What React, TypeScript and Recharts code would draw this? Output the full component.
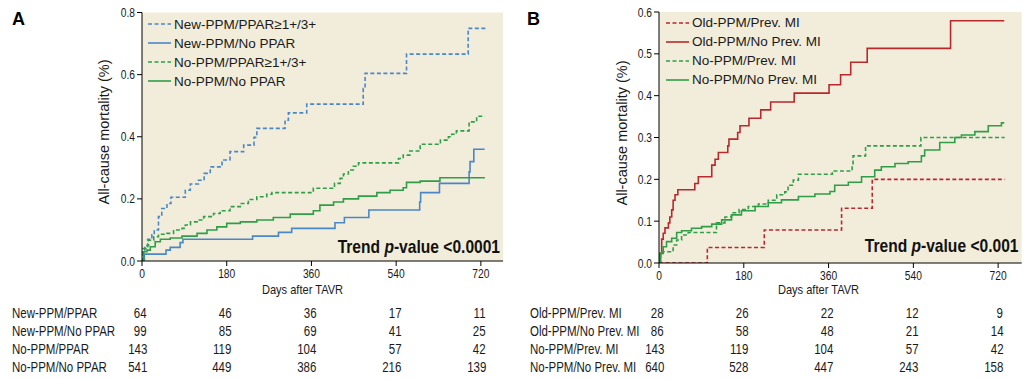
import { LineChart, Line, XAxis, YAxis, CartesianGrid } from "recharts";

type Pt = [number, number];

const dayTicks = [0, 180, 360, 540, 720];
const yTicksA = [0, 0.2, 0.4, 0.6, 0.8];
const yTicksB = [0, 0.1, 0.2, 0.3, 0.4, 0.5, 0.6];

// Panel A curves, [day, cumulative mortality]
const newPpmPpar: Pt[] = [
  [0, 0], [2, 0.03], [6, 0.046], [12, 0.07], [21, 0.084], [26, 0.1], [35, 0.143], [42, 0.169],
  [53, 0.185], [61.5, 0.205], [92, 0.228], [102.6, 0.248], [120, 0.26], [132, 0.282], [145, 0.303],
  [170, 0.325], [187, 0.352], [216, 0.373], [238, 0.398], [244, 0.427], [304, 0.453], [311, 0.477],
  [350, 0.505], [470, 0.555], [474, 0.604], [562, 0.666], [693, 0.749], [730, 0.749],
];
const newPpmNoPpar: Pt[] = [
  [0, 0], [5, 0.022], [51, 0.035], [60, 0.044], [81, 0.059], [87, 0.07], [235, 0.08], [290, 0.092],
  [318, 0.105], [410, 0.123], [430, 0.14], [482, 0.164], [590, 0.19], [592, 0.22], [632, 0.25],
  [695, 0.287], [697, 0.32], [705, 0.36], [728, 0.36],
];
const noPpmPpar: Pt[] = [
  [0, 0], [2, 0.04], [10.6, 0.05], [14, 0.067], [25, 0.078], [35, 0.086], [53, 0.089], [67, 0.1],
  [85, 0.105], [92, 0.116], [103, 0.126], [117, 0.132], [131, 0.143], [152, 0.153], [166, 0.162],
  [187, 0.175], [209, 0.185], [226, 0.198], [244, 0.207], [265, 0.215], [276, 0.22], [364, 0.234],
  [409, 0.25], [421, 0.266], [428, 0.28], [438.5, 0.293], [449, 0.305], [460, 0.316], [545, 0.33],
  [555, 0.341], [569, 0.354], [591, 0.376], [634, 0.389], [651, 0.4], [658, 0.408], [668, 0.419],
  [695, 0.448], [711, 0.466], [728.5, 0.466],
];
const noPpmNoPpar: Pt[] = [
  [0, 0], [3.5, 0.03], [10.6, 0.035], [17.7, 0.046], [28, 0.062], [39, 0.07], [60, 0.074], [85, 0.08],
  [117, 0.089], [138, 0.1], [159, 0.11], [180, 0.121], [209, 0.126], [244, 0.132], [279, 0.14],
  [315, 0.151], [364, 0.162], [378, 0.18], [407, 0.19], [428, 0.2], [460, 0.209], [499, 0.22],
  [527, 0.228], [555, 0.236], [562, 0.253], [591, 0.257], [633, 0.268], [728.5, 0.268],
];

// Panel B curves
const oldPpmPrevMi: Pt[] = [
  [0, 0], [102.6, 0.037], [223.5, 0.079], [387.6, 0.131], [452.7, 0.2], [734, 0.2],
];
const oldPpmNoPrevMi: Pt[] = [
  [0, 0], [2, 0.023], [5.7, 0.057], [9, 0.071], [12.7, 0.084], [20, 0.096], [23, 0.11], [27, 0.127],
  [30, 0.15], [34, 0.163], [40, 0.175], [76, 0.19], [83.5, 0.206], [112, 0.234], [119, 0.248],
  [126, 0.264], [146, 0.28], [148.5, 0.296], [167, 0.312], [172, 0.328], [191, 0.346], [216, 0.366],
  [237, 0.385], [287, 0.406], [361, 0.426], [385.5, 0.45], [407, 0.48], [442, 0.513], [619, 0.579],
  [733, 0.579],
];
const noPpmPrevMi: Pt[] = [
  [0, 0], [3.5, 0.019], [6, 0.027], [30, 0.043], [37.5, 0.055], [48, 0.067], [62, 0.073], [122, 0.096],
  [140, 0.11], [154, 0.12], [170, 0.128], [189.5, 0.135], [211, 0.141], [232, 0.15], [250, 0.163],
  [267, 0.17], [274, 0.186], [285, 0.198], [296, 0.212], [368, 0.22], [410, 0.232], [412, 0.256],
  [438.5, 0.28], [556, 0.3], [734, 0.3],
];
const noPpmNoPrevMi: Pt[] = [
  [0, 0], [3.5, 0.023], [9, 0.039], [16, 0.051], [27, 0.059], [37.5, 0.073], [48, 0.077], [69, 0.083],
  [90.5, 0.087], [112, 0.093], [133, 0.103], [154, 0.115], [175, 0.125], [204, 0.135], [232, 0.144],
  [260, 0.151], [296, 0.159], [331, 0.165], [363, 0.171], [373, 0.186], [402, 0.193], [430, 0.206],
  [458, 0.222], [472, 0.23], [501, 0.238], [529, 0.242], [557, 0.256], [564, 0.27], [596, 0.288],
  [628, 0.3], [642, 0.306], [670.5, 0.314], [699, 0.328], [727, 0.335], [733, 0.335],
];

// numbers at risk
const riskLabelsA = ["New-PPM/PPAR", "New-PPM/No PPAR", "No-PPM/PPAR", "No-PPM/No PPAR"];
const riskA = [
  [64, 46, 36, 17, 11],
  [99, 85, 69, 41, 25],
  [143, 119, 104, 57, 42],
  [541, 449, 386, 216, 139],
];
const riskLabelsB = ["Old-PPM/Prev. MI", "Old-PPM/No Prev. MI", "No-PPM/Prev. MI", "No-PPM/No Prev. MI"];
const riskB = [
  [28, 26, 22, 12, 9],
  [86, 58, 48, 21, 14],
  [143, 119, 104, 57, 42],
  [640, 528, 447, 243, 158],
];

const BLUE = "#4a87c7";
const GREEN = "#2f9e47";
const RED = "#b8292e";
const BG = "#f2eddb";
const SANS = '"Liberation Sans", Arial, sans-serif';
const SQUEEZE = 0.82; // no narrow face installed, so squeeze the sans

type Series = { name: string; color: string; dashed: boolean; pts: Pt[] };

const seriesA: Series[] = [
  { name: "New-PPM/PPAR\u22651+/3+", color: BLUE, dashed: true, pts: newPpmPpar },
  { name: "New-PPM/No PPAR", color: BLUE, dashed: false, pts: newPpmNoPpar },
  { name: "No-PPM/PPAR\u22651+/3+", color: GREEN, dashed: true, pts: noPpmPpar },
  { name: "No-PPM/No PPAR", color: GREEN, dashed: false, pts: noPpmNoPpar },
];
const seriesB: Series[] = [
  { name: "Old-PPM/Prev. MI", color: RED, dashed: true, pts: oldPpmPrevMi },
  { name: "Old-PPM/No Prev. MI", color: RED, dashed: false, pts: oldPpmNoPrevMi },
  { name: "No-PPM/Prev. MI", color: GREEN, dashed: true, pts: noPpmPrevMi },
  { name: "No-PPM/No Prev. MI", color: GREEN, dashed: false, pts: noPpmNoPrevMi },
];

const toRows = (pts: Pt[]) => pts.map(([d, v]) => ({ d, v }));

// narrow tick labels drawn as squeezed svg text
const XTick = (props: any) => {
  const { x, y, payload } = props;
  return (
    <g transform={`translate(${x},${y})`}>
      <text textAnchor="middle" dy="0.8em" transform={`scale(${SQUEEZE},1)`} fontSize={12.5} fontFamily={SANS} fill="#1a1a1a">
        {payload.value}
      </text>
    </g>
  );
};
const YTick = (props: any) => {
  const { x, y, payload } = props;
  return (
    <g transform={`translate(${x},${y})`}>
      <text textAnchor="end" dy="0.36em" transform={`scale(${SQUEEZE},1)`} fontSize={12.5} fontFamily={SANS} fill="#1a1a1a">
        {Number(payload.value).toFixed(1)}
      </text>
    </g>
  );
};

const Narrow = ({ children, origin }: { children: any; origin: string }) => (
  <span style={{ display: "inline-block", transform: `scaleX(${SQUEEZE})`, transformOrigin: origin }}>{children}</span>
);

type PanelProps = {
  left: number;
  width: number;
  plotLeft: number;
  plotRight: number;
  plotTop: number;
  plotBottom: number;
  xMax: number;
  yMax: number;
  yTicks: number[];
  series: Series[];
  letter: string;
  trend: string;
  trendTop: number;
  legendLeft: number;
  legendTop: number;
  labels: string[];
  risk: number[][];
  labelX: number;
  yLabelX: number;
  xLabelX: number;
};

const Panel = (p: PanelProps) => {
  const H = 300;
  const xAxisH = 30;
  const yAxisW = 40;
  const pxPerDay = (p.plotRight - p.plotLeft) / p.xMax;
  return (
    <div style={{ position: "absolute", left: p.left, top: 0, width: p.width, height: 379 }}>
      <LineChart
        width={p.width}
        height={H}
        margin={{
          top: p.plotTop,
          right: p.width - p.plotRight,
          bottom: H - p.plotBottom - xAxisH,
          left: p.plotLeft - yAxisW,
        }}
      >
        <CartesianGrid horizontal={false} vertical={false} fill={BG} stroke="none" />
        <XAxis
          type="number"
          dataKey="d"
          domain={[0, p.xMax]}
          ticks={dayTicks}
          height={xAxisH}
          tick={<XTick />}
          tickSize={5}
          stroke="#000"
          allowDataOverflow
        />
        <YAxis
          type="number"
          dataKey="v"
          domain={[0, p.yMax]}
          ticks={p.yTicks}
          width={yAxisW}
          tick={<YTick />}
          tickSize={5}
          stroke="#000"
          allowDataOverflow
        />
        {p.series.map((s) => (
          <Line
            key={s.name}
            data={toRows(s.pts)}
            dataKey="v"
            type="stepAfter"
            stroke={s.color}
            strokeWidth={1.6}
            strokeDasharray={s.dashed ? "4 2.5" : undefined}
            dot={false}
            activeDot={false}
            isAnimationActive={false}
          />
        ))}
      </LineChart>

      {/* panel letter */}
      <div style={{ position: "absolute", left: 12, top: 10, fontFamily: SANS, fontWeight: 700, fontSize: 18, lineHeight: 1 }}>
        {p.letter}
      </div>

      {/* y axis title */}
      <div
        style={{
          position: "absolute",
          left: p.yLabelX,
          top: (p.plotTop + p.plotBottom) / 2 - 5,
          transform: "translate(-50%, -50%) rotate(-90deg)",
          fontFamily: SANS,
          fontSize: 14.5,
          whiteSpace: "nowrap",
          color: "#1a1a1a",
        }}
      >
        All-cause mortality (%)
      </div>

      {/* x axis title */}
      <div
        style={{
          position: "absolute",
          left: p.xLabelX - 100,
          width: 200,
          top: 283,
          textAlign: "center",
          fontFamily: SANS,
          fontSize: 13.5,
          lineHeight: "14px",
          whiteSpace: "nowrap",
          color: "#1a1a1a",
        }}
      >
        <Narrow origin="center">Days after TAVR</Narrow>
      </div>

      {/* legend */}
      <div style={{ position: "absolute", left: p.legendLeft, top: p.legendTop }}>
        {p.series.map((s) => (
          <div key={s.name} style={{ display: "flex", alignItems: "center", height: 19 }}>
            <svg width={23} height={4} style={{ marginRight: 3 }}>
              <line
                x1={0}
                y1={2}
                x2={23}
                y2={2}
                stroke={s.color}
                strokeWidth={1.6}
                strokeDasharray={s.dashed ? "4 2.5" : undefined}
              />
            </svg>
            <span style={{ fontFamily: SANS, fontSize: 13.5, color: "#1a1a1a", whiteSpace: "nowrap" }}>{s.name}</span>
          </div>
        ))}
      </div>

      {/* trend p-value */}
      <div
        style={{
          position: "absolute",
          right: p.width - p.plotRight + 3,
          top: p.trendTop,
          fontFamily: SANS,
          fontWeight: 700,
          fontSize: 19,
          lineHeight: "19px",
          whiteSpace: "nowrap",
          color: "#111",
        }}
      >
        <Narrow origin="right">
          Trend <i>p</i>-value {p.trend}
        </Narrow>
      </div>

      {/* numbers at risk */}
      {p.labels.map((lab, r) => (
        <div key={lab}>
          <div
            style={{
              position: "absolute",
              left: p.labelX,
              top: 304 + r * 18,
              fontFamily: SANS,
              fontSize: 14,
              lineHeight: "18px",
              whiteSpace: "nowrap",
              color: "#1a1a1a",
            }}
          >
            <Narrow origin="left">{lab}</Narrow>
          </div>
          {p.risk[r].map((n, c) => (
            <div
              key={c}
              style={{
                position: "absolute",
                right: p.width - (p.plotLeft + dayTicks[c] * pxPerDay + 5),
                top: 304 + r * 18,
                fontFamily: SANS,
                fontSize: 14,
                lineHeight: "18px",
                color: "#1a1a1a",
              }}
            >
              <Narrow origin="right">{n}</Narrow>
            </div>
          ))}
        </div>
      ))}
    </div>
  );
};

export default function App() {
  return (
    <div style={{ position: "absolute", left: 0, top: 0, width: 1033, height: 379, background: "#fff", overflow: "hidden" }}>
      <Panel
        left={0}
        width={515}
        plotLeft={142}
        plotRight={503}
        plotTop={12.5}
        plotBottom={261}
        xMax={767}
        yMax={0.8}
        yTicks={yTicksA}
        series={seriesA}
        letter="A"
        trend="<0.0001"
        trendTop={237}
        legendLeft={148}
        legendTop={14.5}
        labels={riskLabelsA}
        risk={riskA}
        labelX={12}
        yLabelX={104}
        xLabelX={303}
      />
      <Panel
        left={515}
        width={518}
        plotLeft={144}
        plotRight={506.7}
        plotTop={12}
        plotBottom={263}
        xMax={770}
        yMax={0.6}
        yTicks={yTicksB}
        series={seriesB}
        letter="B"
        trend="<0.001"
        trendTop={236}
        legendLeft={151}
        legendTop={13}
        labels={riskLabelsB}
        risk={riskB}
        labelX={15}
        yLabelX={107}
        xLabelX={304}
      />
    </div>
  );
}
